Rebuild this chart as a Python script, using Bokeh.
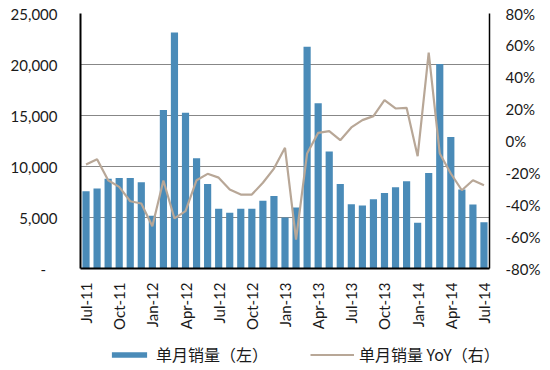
import math
from bokeh.plotting import figure
from bokeh.layouts import column
from bokeh.models import (Range1d, LinearAxis, FixedTicker, NumeralTickFormatter,
                          Legend, LegendItem, ColumnDataSource)
from bokeh.embed import file_html
from bokeh.resources import INLINE

months = ["Jul-11", "Aug-11", "Sep-11", "Oct-11", "Nov-11", "Dec-11",
          "Jan-12", "Feb-12", "Mar-12", "Apr-12", "May-12", "Jun-12",
          "Jul-12", "Aug-12", "Sep-12", "Oct-12", "Nov-12", "Dec-12",
          "Jan-13", "Feb-13", "Mar-13", "Apr-13", "May-13", "Jun-13",
          "Jul-13", "Aug-13", "Sep-13", "Oct-13", "Nov-13", "Dec-13",
          "Jan-14", "Feb-14", "Mar-14", "Apr-14", "May-14", "Jun-14",
          "Jul-14"]
sales = [7580, 7840, 8800, 8870, 8870, 8450,
         5160, 15550, 23130, 15260, 10800, 8290,
         5860, 5470, 5860, 5860, 6640, 7100,
         5000, 5980, 21740, 16200, 11480, 8290,
         6300, 6170, 6790, 7410, 7960, 8550,
         4480, 9370, 20050, 12900, 7740, 6270,
         4540]
yoy = [-14.7, -11.4, -24.6, -28.8, -37.8, -39.2,
       -53.5, -24.8, -48.6, -44.0, -24.6, -20.6,
       -23.0, -30.5, -33.6, -33.6, -26.2, -17.3,
       -4.3, -61.8, -7.8, 5.1, 6.2, 0.5,
       8.5, 13.1, 15.6, 25.6, 20.4, 20.8,
       -9.5, 55.5, -7.8, -20.4, -30.9, -24.6,
       -27.7]
left_ticks = [0, 5000, 10000, 15000, 20000, 25000]
right_ticks = [-80, -60, -40, -20, 0, 20, 40, 60, 80]
label_every = 3
bar_name = "单月销量（左）"
line_name = "单月销量 YoY（右）"

idx = list(range(len(months)))
src = ColumnDataSource(dict(x=idx, sales=sales, yoy=yoy))

FONT = "Lato"
BLUE = "#4a8bb8"
TAN = "#b8a797"
TXT = "#1a1a1a"

p = figure(frame_width=409, frame_height=255, output_backend="svg",
           toolbar_location=None,
           x_range=Range1d(-0.5, len(months) - 0.5),
           y_range=Range1d(0, 25000),
           min_border_left=80, min_border_right=61,
           min_border_top=13, min_border_bottom=64,
           y_axis_location=None, x_axis_location=None)
p.frame_align = False
p.outline_line_color = None
p.extra_y_ranges = {"yoy": Range1d(-80, 80)}

bars = p.vbar(x="x", top="sales", width=0.65, source=src,
              fill_color=BLUE, line_color=None)
line = p.line(x="x", y="yoy", source=src, y_range_name="yoy",
              line_color=TAN, line_width=2.2)

p.xgrid.visible = False
p.ygrid.ticker = FixedTicker(ticks=left_ticks)
p.ygrid.grid_line_color = "#878787"
p.ygrid.grid_line_width = 1


def style(ax, standoff):
    ax.axis_line_color = "black"
    ax.major_tick_line_color = None
    ax.minor_tick_line_color = None
    ax.major_tick_out = 0
    ax.major_tick_in = 0
    ax.minor_tick_out = 0
    ax.minor_tick_in = 0
    ax.major_label_standoff = standoff
    ax.major_label_text_font = FONT
    ax.major_label_text_font_size = "15px"
    ax.major_label_text_color = TXT


ly = LinearAxis(ticker=FixedTicker(ticks=left_ticks),
                formatter=NumeralTickFormatter(format="0,0"))
ly.major_label_overrides = {0: "-\u00a0\u00a0\u00a0"}
style(ly, 23)
ly.axis_line_width = 2
p.add_layout(ly, "left")

ry = LinearAxis(y_range_name="yoy", ticker=FixedTicker(ticks=right_ticks))
ry.major_label_overrides = {t: f"{t}%" for t in right_ticks}
style(ry, 16)
ry.axis_line_width = 1.5
p.add_layout(ry, "right")

xt = idx[::label_every]
xa = LinearAxis(ticker=FixedTicker(ticks=xt))
xa.major_label_overrides = {i: months[i] for i in xt}
xa.major_label_orientation = math.pi / 2
style(xa, 14)
xa.axis_line_width = 2
p.add_layout(xa, "below")

# legend strip below the chart
lf = figure(width=550, height=38, output_backend="svg", toolbar_location=None,
            x_range=Range1d(0, 1), y_range=Range1d(0, 1),
            min_border_left=0, min_border_right=0, min_border_top=0,
            min_border_bottom=0, x_axis_location=None, y_axis_location=None)
lf.frame_align = False
lf.outline_line_color = None
lf.grid.visible = False
key_src = ColumnDataSource(dict(x=[-5, -4], y=[0, 0]))
lb = lf.vbar(x="x", top="y", width=0.5, source=key_src,
             fill_color=BLUE, line_color=None)
ll = lf.line(x="x", y="y", source=key_src, line_color=TAN, line_width=2)
legend = Legend(items=[LegendItem(label=bar_name, renderers=[lb]),
                       LegendItem(label=line_name, renderers=[ll])],
                orientation="horizontal", location=(107, 4),
                glyph_width=44, glyph_height=7, label_standoff=5,
                label_height=16, spacing=42, padding=0, margin=0,
                border_line_color=None, background_fill_alpha=0,
                label_text_font="Noto Sans CJK SC",
                label_text_font_size="16px", label_text_color=TXT)
lf.add_layout(legend, "center")

layout = column(p, lf, spacing=0)
open("out.html", "w").write(file_html(layout, INLINE))
